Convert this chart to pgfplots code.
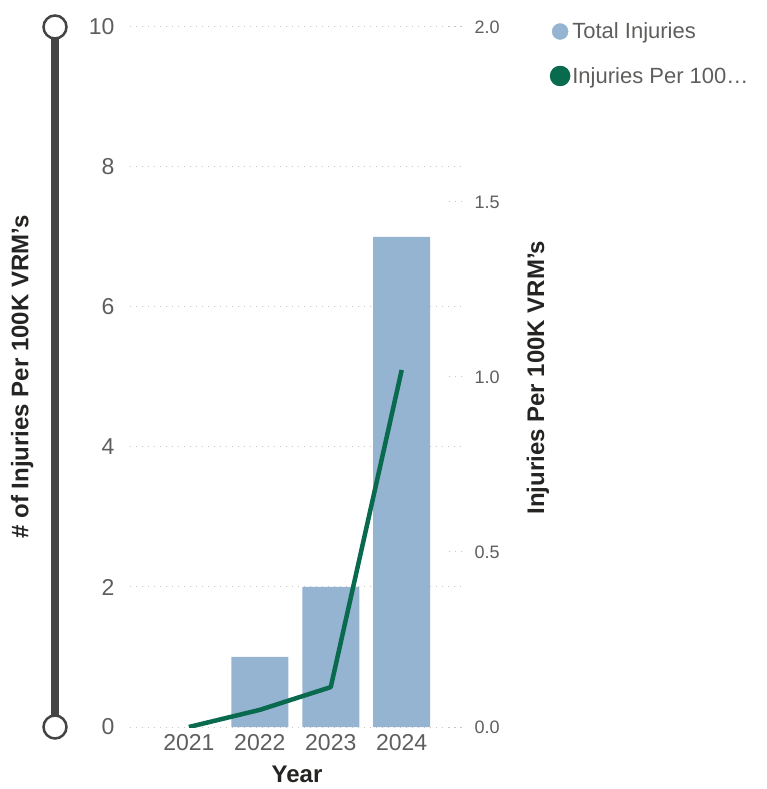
\documentclass[border=0pt]{standalone}
\usepackage{fontspec}
\setmainfont{Liberation Sans}
\usepackage{pgfplots}
\pgfplotsset{compat=1.18}
\definecolor{barc}{HTML}{94B4D2}
\definecolor{linec}{HTML}{0A6A4E}
\definecolor{tickc}{HTML}{605E5C}
\definecolor{titc}{HTML}{252423}
\definecolor{gridc}{HTML}{C8C6C4}
\definecolor{sliderc}{HTML}{444444}
\begin{document}
\begin{tikzpicture}[x=1pt,y=1pt]
\useasboundingbox (0,0) rectangle (767,789);
% zoom slider decoration
\fill[sliderc] (51,62) rectangle (59,762);
\draw[sliderc, line width=2.5pt, fill=white] (55,762) circle (11.5);
\draw[sliderc, line width=2.5pt, fill=white] (55,62) circle (11.5);
\begin{axis}[
  at={(130pt,62pt)}, anchor=south west,
  scale only axis, width=332pt, height=700pt,
  xmin=-0.83, xmax=3.85, ymin=0, ymax=10,
  axis line style={draw=none}, major tick length=0pt,
  xtick={0,1,2,3}, xticklabels={2021,2022,2023,2024},
  ytick={0,2,4,6,8,10},
  ymajorgrids, grid style={gridc, line width=1pt, dash pattern=on 1pt off 5pt},
  /pgf/number format/assume math mode=true,
  tick label style={tickc, font=\fontsize{23}{26}\selectfont},
  yticklabel style={xshift=-12pt},
  xticklabel style={yshift=-4pt},
  ylabel={\# of Injuries Per 100K VRM's},
  ylabel style={at={(axis description cs:-0.325,0.5)}, anchor=center, rotate=0, titc, font=\bfseries\fontsize{24}{28}\selectfont},
  xlabel={Year},
  xlabel style={at={(axis description cs:0.503,-0.068)}, anchor=center, titc, font=\bfseries\fontsize{24}{28}\selectfont},
]
\addplot[ybar, bar width=57pt, bar shift=0pt, fill=barc, draw=none] coordinates {(1,1) (2,2) (3,7)};
\end{axis}
\begin{axis}[
  at={(130pt,62pt)}, anchor=south west,
  scale only axis, width=332pt, height=700pt,
  xmin=-0.83, xmax=3.85, ymin=0, ymax=2,
  axis x line=none, axis y line*=right,
  y axis line style={draw=none},
  ytick={0,0.5,1,1.5,2},
  ytick style={gridc, line width=1pt, dash pattern=on 1pt off 5pt},
  tick align=inside, major tick length=14pt,
  /pgf/number format/assume math mode=true,
  yticklabel style={tickc, font=\fontsize{18}{21}\selectfont, /pgf/number format/fixed, /pgf/number format/fixed zerofill, /pgf/number format/precision=1, xshift=9pt},
  ylabel={Injuries Per 100K VRM's},
  ylabel style={at={(axis description cs:1.229,0.499)}, anchor=center, rotate=0, titc, font=\bfseries\fontsize{24}{28}\selectfont},
  legend style={at={(axis description cs:1.255,1.012)}, anchor=north west, draw=none, fill=none,
    font=\fontsize{22}{25}\selectfont, text=tickc, row sep=23pt,
    legend cell align=left, /tikz/every even column/.append style={column sep=1pt}},
  legend image code/.code={\fill[#1] (6pt,0pt) circle (8pt);},
]
\addlegendimage{barc}
\addlegendentry{Total Injuries}
\addplot[linec, line width=4.5pt, line join=round] coordinates {(0,0) (1,0.049) (2,0.114) (3,1.02)};
\addlegendentry{Injuries Per 100\ldots}
\end{axis}
\end{tikzpicture}
\end{document}
